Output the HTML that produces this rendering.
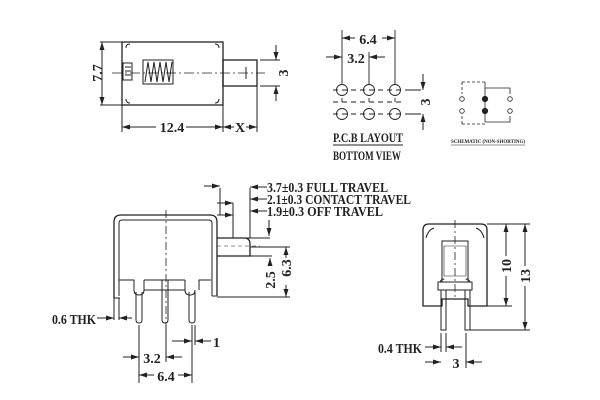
<!DOCTYPE html>
<html><head><meta charset="utf-8"><style>html,body{margin:0;padding:0;background:#fff}svg{display:block}</style></head><body>
<svg width="600" height="400" viewBox="0 0 600 400" xmlns="http://www.w3.org/2000/svg" font-family="Liberation Serif, serif" font-weight="bold" fill="none" stroke="#222" stroke-width="1">
<defs><marker id="a" markerWidth="8" markerHeight="6" refX="8" refY="3" orient="auto-start-reverse" markerUnits="userSpaceOnUse"><path d="M0,0.5 L8,3 L0,5.5 Z" fill="#222" stroke="none"/></marker></defs>
<!-- top-left view -->
<rect x="122" y="42" width="101" height="63" stroke-width="1.3"/>
<path d="M126,48 q0,-4 4,-4 M126,99 q0,4 4,4 M219,48 q0,-4 -4,-4 M219,99 q0,4 -4,4"/>
<rect x="123" y="63" width="9" height="17"/>
<path d="M125,67h6M125,71h6M125,75h6"/>
<rect x="143" y="60" width="30" height="24"/>
<path d="M145,82 L148,62 L151,82 L154,62 L157,82 L160,62 L163,82 L166,62 L169,82 L172,62"/>
<rect x="223" y="60" width="34" height="26" stroke-width="1.3"/>
<path d="M246,67v12"/>
<path d="M112,73 H265" stroke-dasharray="10,3,2,3" stroke-width="0.8"/>
<path d="M100,42h22M100,105h22"/>
<path d="M102,42V105" marker-start="url(#a)" marker-end="url(#a)"/>
<text x="104" y="73" font-size="14" fill="#222" stroke="none" transform="rotate(-90 104 73)" text-anchor="middle" dy="-2">7.7</text>
<path d="M122,105V132M223,105V132M257,86V132"/>
<path d="M122,127H223" marker-start="url(#a)" marker-end="url(#a)"/>
<rect x="156" y="118" width="30" height="14" fill="#fff" stroke="none"/>
<text x="172" y="132" font-size="14" fill="#222" stroke="none" text-anchor="middle">12.4</text>
<path d="M223,127H257" marker-start="url(#a)" marker-end="url(#a)"/>
<rect x="234" y="119" width="12" height="13" fill="#fff" stroke="none"/>
<text x="240" y="132" font-size="14" fill="#222" stroke="none" text-anchor="middle">X</text>
<path d="M260,60h20M260,86h20M276,45V60M276,86V101" />
<path d="M276,48V60" marker-end="url(#a)"/><path d="M276,98V86" marker-end="url(#a)"/>
<text x="291" y="73" font-size="14" fill="#222" stroke="none" transform="rotate(-90 291 73)" text-anchor="middle" dy="-3">3</text>
<!-- PCB layout -->
<g stroke-width="0.9">
<circle cx="342" cy="90" r="5.5"/><circle cx="369" cy="90" r="5.5"/><circle cx="395" cy="90" r="5.5"/>
<circle cx="342" cy="114" r="5.5"/><circle cx="369" cy="114" r="5.5"/><circle cx="395" cy="114" r="5.5"/>
<path d="M333,90H405M333,114H405M333,102H405" stroke-dasharray="5,4"/>
<path d="M342,84V30M395,84V30M369,84V52"/>
<path d="M342,102V98M369,102V98M395,102V98"/>
</g>
<path d="M342,38H395" marker-start="url(#a)" marker-end="url(#a)"/>
<rect x="355" y="30" width="27" height="14" fill="#fff" stroke="none"/>
<text x="368" y="44" font-size="14" fill="#222" stroke="none" text-anchor="middle">6.4</text>
<path d="M326,57H342" marker-end="url(#a)"/><path d="M385,57H369" marker-end="url(#a)"/>
<text x="356" y="63" font-size="14" fill="#222" stroke="none" text-anchor="middle">3.2</text>
<path d="M405,90h16M405,114h16"/>
<path d="M423,74V90" marker-end="url(#a)"/><path d="M423,130V114" marker-end="url(#a)"/>
<text x="430" y="102" font-size="14" fill="#222" stroke="none" transform="rotate(-90 430 102)" text-anchor="middle">3</text>
<text x="333" y="142" font-size="13" fill="#222" stroke="none" textLength="70" lengthAdjust="spacingAndGlyphs">P.C.B LAYOUT</text>
<path d="M333,145H403"/>
<text x="333" y="160" font-size="13" fill="#222" stroke="none" textLength="68" lengthAdjust="spacingAndGlyphs">BOTTOM VIEW</text>
<!-- schematic -->
<path d="M462,82H485M462,124H485M462,82V94M462,116V124" stroke-dasharray="3,2" stroke-width="0.8"/>
<path d="M485,88H510V94M510,116V122H485" stroke-width="0.8"/>
<path d="M485,82V122" stroke-width="0.8"/>
<circle cx="462" cy="99" r="2.3" stroke-width="0.8"/><circle cx="462" cy="111" r="2.3" stroke-width="0.8"/>
<circle cx="510" cy="99" r="2.3" stroke-width="0.8"/><circle cx="510" cy="111" r="2.3" stroke-width="0.8"/>
<circle cx="485" cy="99" r="2.6" fill="#222"/><circle cx="485" cy="111" r="2.6" fill="#222"/>
<text x="451" y="143" font-size="5" fill="#222" stroke="none" textLength="74" lengthAdjust="spacingAndGlyphs">SCHEMATIC (NON-SHORTING)</text>
<path d="M451,145H525" stroke-width="0.6"/>
<!-- bottom-left side view -->
<path d="M114,298V222q0,-7 7,-7H210q7,0 7,7V296" stroke-width="1.3"/>
<path d="M119,296V223q0,-3 3,-3H209q3,0 3,3V296"/>
<path d="M114,298h6M212,296h5"/>
<path d="M119,280H134V290M211,280H199V290M144,280V290H185V280M144,280H185"/>
<path d="M134,290q0,5 5,5q5,0 5,-5M185,290q0,5 5,5q5,0 5,-5"/>
<path d="M136,292V320q0,3 3,3q3,0 3,-3V292M162,280V320q0,3 3,3q3,0 3,-3V280M189,292V320q0,3 3,3q3,0 3,-3V292"/>
<path d="M166,210V330" stroke-dasharray="8,3,2,3" stroke-width="0.8"/>
<path d="M217,238H244q6,0 6,6V256H217" stroke-width="1.3"/>
<path d="M217,246H260" stroke-dasharray="4,3" stroke-width="0.6"/>
<path d="M220,215V188M233,238V203M250,238V188M225,238H270"/>
<path d="M204,186H220" marker-end="url(#a)"/>
<path d="M217,203H233" marker-end="url(#a)"/>
<path d="M217,215H233" marker-end="url(#a)"/>
<path d="M267,187H250" marker-end="url(#a)"/><path d="M267,199H250" marker-end="url(#a)"/><path d="M267,211H250" marker-end="url(#a)"/>
<path d="M269,220V236" marker-end="url(#a)"/>
<g fill="#222" stroke="none" font-size="14">
<text x="267" y="192" textLength="121" lengthAdjust="spacingAndGlyphs">3.7±0.3 FULL TRAVEL</text>
<text x="267" y="204" textLength="144" lengthAdjust="spacingAndGlyphs">2.1±0.3 CONTACT TRAVEL</text>
<text x="267" y="216" textLength="116" lengthAdjust="spacingAndGlyphs">1.9±0.3 OFF TRAVEL</text>
</g>
<path d="M250,256H272M217,297H290M250,247H290"/>
<path d="M270,262V258" marker-end="url(#a)"/>
<path d="M286,258V247" marker-end="url(#a)"/><path d="M286,285V297" marker-end="url(#a)"/>
<text x="275" y="280" font-size="14" fill="#222" stroke="none" transform="rotate(-90 275 280)" text-anchor="middle">2.5</text>
<text x="291" y="268" font-size="14" fill="#222" stroke="none" transform="rotate(-90 291 268)" text-anchor="middle">6.3</text>
<path d="M114,298V320M119,298V320"/>
<path d="M97,318H114" marker-end="url(#a)"/><path d="M132,318H119" marker-end="url(#a)"/>
<text x="52" y="324" font-size="14" fill="#222" stroke="none" textLength="44" lengthAdjust="spacingAndGlyphs">0.6 THK</text>
<path d="M139,325V383M166,325V362M192,325V383M195,325V345"/>
<path d="M123,357H139" marker-end="url(#a)"/><path d="M182,357H166" marker-end="url(#a)"/>
<text x="152" y="363" font-size="14" fill="#222" stroke="none" text-anchor="middle">3.2</text>
<path d="M139,375H192" marker-start="url(#a)" marker-end="url(#a)"/>
<rect x="154" y="368" width="24" height="13" fill="#fff" stroke="none"/>
<text x="166" y="381" font-size="14" fill="#222" stroke="none" text-anchor="middle">6.4</text>
<path d="M172,341H192" marker-end="url(#a)"/><path d="M211,341H195" marker-end="url(#a)"/>
<text x="213" y="347" font-size="14" fill="#222" stroke="none">1</text>
<!-- right side view -->
<path d="M423,306V230q0,-6 6,-6H481q6,0 6,6V306H468V299H442V306Z" stroke-width="1.3"/>
<path d="M426,238q2,-8 8,-10M484,238q-2,-8 -8,-10"/>
<rect x="442" y="241" width="26" height="41"/>
<path d="M444,246H466V276H444Z" stroke-width="0.6"/>
<path d="M438,282H472V290H438Z"/>
<path d="M440,282q3,-5 4,-2M470,282q-3,-5 -4,-2"/>
<path d="M441,290V330H446V290M465,290V330H470V290"/>
<path d="M455,220V300" stroke-dasharray="8,3,2,3" stroke-width="0.8"/>
<path d="M487,224H530M487,306H512M470,330H530"/>
<path d="M506,224V306" marker-start="url(#a)" marker-end="url(#a)"/>
<rect x="500" y="256" width="12" height="20" fill="#fff" stroke="none"/>
<text x="511" y="266" font-size="14" fill="#222" stroke="none" transform="rotate(-90 511 266)" text-anchor="middle">10</text>
<path d="M525,224V330" marker-start="url(#a)" marker-end="url(#a)"/>
<rect x="519" y="266" width="12" height="20" fill="#fff" stroke="none"/>
<text x="530" y="276" font-size="14" fill="#222" stroke="none" transform="rotate(-90 530 276)" text-anchor="middle">13</text>
<path d="M441,333V352M446,333V352M466,333V368"/>
<path d="M425,347H441" marker-end="url(#a)"/><path d="M462,347H446" marker-end="url(#a)"/>
<text x="378" y="353" font-size="14" fill="#222" stroke="none" textLength="44" lengthAdjust="spacingAndGlyphs">0.4 THK</text>
<path d="M425,362H441" marker-end="url(#a)"/><path d="M482,362H466" marker-end="url(#a)"/>
<text x="456" y="368" font-size="14" fill="#222" stroke="none" text-anchor="middle">3</text>
</svg>
</body></html>
